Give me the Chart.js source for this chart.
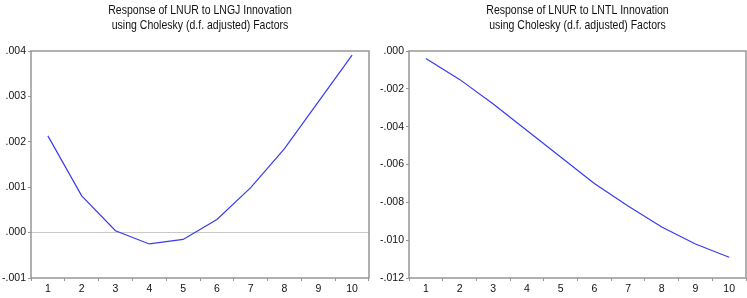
<!DOCTYPE html>
<html><head><meta charset="utf-8">
<script src="https://cdn.jsdelivr.net/npm/chart.js@4"></script>
<style>
html,body{margin:0;padding:0;background:#fff;}
#wrap{position:relative;width:747px;height:298px;}
#c1{position:absolute;left:0;top:0;}
#c2{position:absolute;left:373px;top:0;}
</style></head><body>
<div id="wrap"><canvas id="c1" width="373" height="298"></canvas><canvas id="c2" width="374" height="298"></canvas></div>
<script>
const periods = ['1','2','3','4','5','6','7','8','9','10'];
const respLNGJ = [0.00213, 0.00081, 0.00004, -0.00025, -0.00015, 0.00029, 0.00099, 0.00185, 0.00288, 0.00391];
const respLNTL = [-0.0004, -0.0015, -0.0028, -0.0042, -0.0056, -0.0070, -0.0082, -0.0093, -0.0102, -0.0109];
const title1 = ['Response of LNUR to LNGJ Innovation', 'using Cholesky (d.f. adjusted) Factors'];
const title2 = ['Response of LNUR to LNTL Innovation', 'using Cholesky (d.f. adjusted) Factors'];

const FONT = 'Liberation Sans, Arial, sans-serif';
const fmt = v => { const s = Math.abs(v).toFixed(3).replace(/^0/, ''); return (v < -1e-9 ? '-' : '') + s; };

const frame = {
  id: 'frame',
  afterDraw(chart) {
    const a = chart.chartArea, c = chart.ctx;
    c.save(); c.strokeStyle = '#969696'; c.lineWidth = 1.5;
    c.strokeRect(a.left, a.top, a.right - a.left, a.bottom - a.top);
    c.restore();
  }
};

// condensed two-line title (reference uses a narrow face)
const narrowTitle = {
  id: 'narrowTitle',
  afterDraw(chart, args, opts) {
    const a = chart.chartArea, c = chart.ctx;
    const cx = (a.left + a.right) / 2;
    c.save();
    c.font = '12.6px ' + FONT;
    c.fillStyle = '#111';
    c.textAlign = 'center';
    c.textBaseline = 'middle';
    opts.lines.forEach((t, i) => {
      c.save();
      c.translate(cx, 11 + i * 15);
      c.scale(0.835, 1);
      c.fillText(t, 0, 0);
      c.restore();
    });
    c.restore();
  }
};

function make(id, data, title, ymin, ymax, step, yw, padR, zero) {
  new Chart(document.getElementById(id), {
    type: 'line',
    data: { labels: periods, datasets: [{ data, borderColor: '#3a3af0', borderWidth: 1.2, pointRadius: 0, tension: 0, fill: false }] },
    options: {
      responsive: false, animation: false,
      layout: { padding: { left: 0, right: padR, top: 51, bottom: 0 } },
      plugins: {
        legend: { display: false }, tooltip: { enabled: false }, title: { display: false },
        narrowTitle: { lines: title }
      },
      scales: {
        x: {
          offset: true,
          grid: { offset: true, drawOnChartArea: false, drawTicks: true, tickLength: 3, tickColor: '#969696', color: '#969696' },
          border: { display: false },
          ticks: { color: '#111', font: { family: FONT, size: 10.5 }, padding: 2, maxRotation: 0, autoSkip: false },
          afterFit(s) { s.height = 20; }
        },
        y: {
          min: ymin, max: ymax,
          grid: {
            drawOnChartArea: true, drawTicks: true, tickLength: 3, tickColor: '#969696',
            color: ctx => (zero && ctx.tick && Math.abs(ctx.tick.value) < 1e-9) ? '#c8c8c8' : 'rgba(0,0,0,0)'
          },
          border: { display: false },
          ticks: { stepSize: step, callback: v => fmt(v), color: '#111', font: { family: FONT, size: 10.5 }, padding: 2 },
          afterFit(s) { s.width = yw; }
        }
      }
    },
    plugins: [frame, narrowTitle]
  });
}

make('c1', respLNGJ, title1, -0.001, 0.004, 0.001, 31, 4, true);
make('c2', respLNTL, title2, -0.012, 0.0, 0.002, 36, 1, false);
</script>
</body></html>
